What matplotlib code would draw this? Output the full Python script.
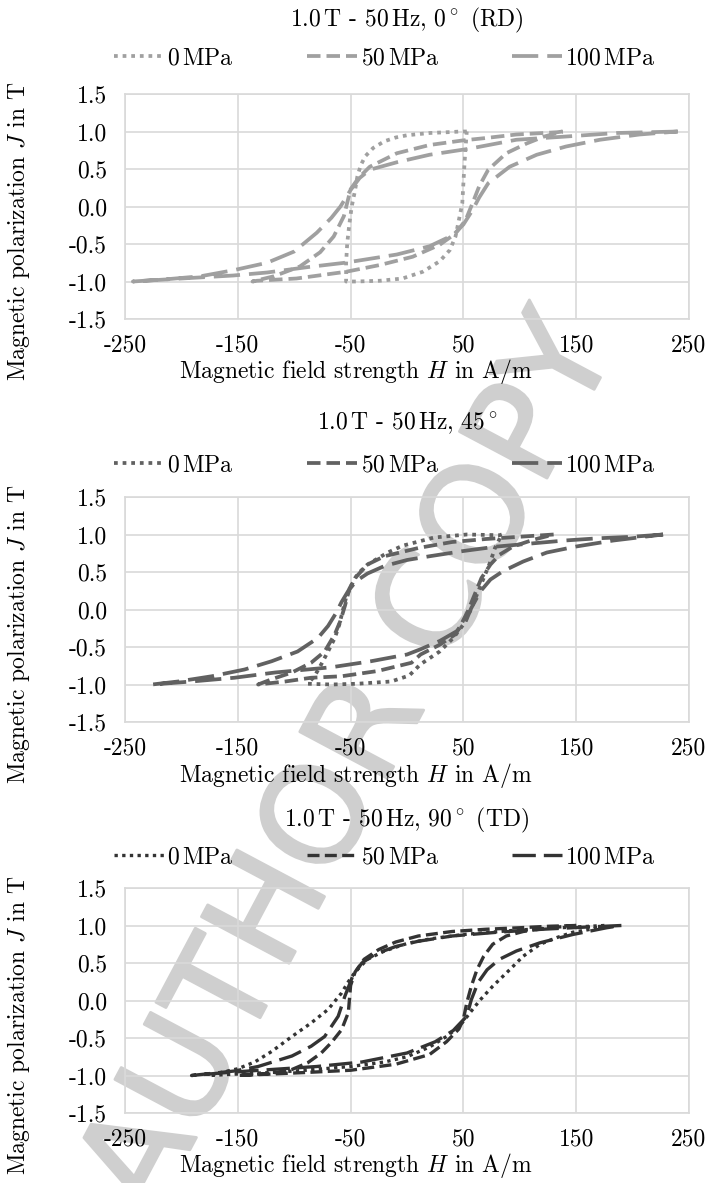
import matplotlib
matplotlib.use('Agg')
import matplotlib.pyplot as plt
import matplotlib.patheffects as pe
from matplotlib.lines import Line2D

plt.rcParams['font.family'] = ['cmr10', 'DejaVu Serif']
plt.rcParams['mathtext.fontset'] = 'cm'
plt.rcParams['axes.formatter.use_mathtext'] = True

# ---- data: (H in A/m, J in T) ----
# 0 deg (RD)
rd_0_up = [(53, 1.00), (48, 1.00), (35, 0.99), (20, 0.98), (0, 0.95), (-10, 0.92), (-20, 0.87),
           (-30, 0.78), (-37, 0.67), (-41, 0.55), (-44, 0.40), (-46, 0.22), (-49, 0.00),
           (-51, -0.22), (-53, -0.49), (-54, -0.76), (-54, -1.00)]
rd_0_lo = [(-54, -1.00), (-45, -1.00), (-24, -0.99), (-4, -0.96), (14, -0.87), (29, -0.73),
           (38, -0.58), (43, -0.40), (46, -0.18), (49, 0.04), (50, 0.31), (51, 0.58),
           (52, 0.80), (53, 1.00)]
rd_50_up = [(138, 1.00), (133, 0.99), (97, 0.96), (68, 0.91), (49, 0.88), (20, 0.82), (-9, 0.71),
            (-33, 0.53), (-43, 0.38), (-50, 0.23), (-56, -0.13), (-65, -0.40), (-77, -0.61),
            (-95, -0.80), (-118, -0.93), (-137, -1.00)]
rd_50_lo = [(-137, -1.00), (-133, -0.99), (-98, -0.96), (-54, -0.87), (-24, -0.78), (5, -0.67),
            (29, -0.51), (43, -0.36), (52, -0.18), (58, 0.04), (64, 0.27), (72, 0.49),
            (88, 0.71), (106, 0.84), (121, 0.93), (138, 1.00)]
rd_100_up = [(240, 1.00), (186, 0.98), (138, 0.93), (97, 0.89), (55, 0.77), (20, 0.69), (-9, 0.59),
             (-33, 0.49), (-42, 0.38), (-50, 0.22), (-59, 0.00), (-67, -0.15), (-80, -0.35),
             (-100, -0.60), (-124, -0.75), (-154, -0.85), (-183, -0.93), (-213, -0.97), (-243, -1.00)]
rd_100_lo = [(-243, -1.00), (-200, -0.96), (-154, -0.92), (-124, -0.88), (-89, -0.81), (-55, -0.75),
             (-9, -0.64), (20, -0.53), (41, -0.38), (50, -0.24), (58, -0.05), (64, 0.12),
             (72, 0.31), (91, 0.53), (115, 0.69), (141, 0.80), (171, 0.89), (206, 0.96), (240, 1.00)]

# 45 deg
d45_0_up = [(84, 1.00), (82, 0.99), (53, 1.00), (24, 0.96), (-4, 0.85), (-17, 0.76), (-35, 0.60),
            (-44, 0.47), (-49, 0.33), (-54, 0.16), (-57, -0.02), (-60, -0.20), (-64, -0.38),
            (-70, -0.56), (-76, -0.73), (-82, -0.89), (-88, -0.99)]
d45_0_lo = [(-88, -0.99), (-67, -1.00), (-44, -0.99), (-14, -0.96), (2, -0.88), (12, -0.73),
            (29, -0.56), (41, -0.38), (50, -0.20), (56, -0.02), (62, 0.20), (68, 0.42),
            (74, 0.64), (78, 0.82), (84, 1.00)]
d45_50_up = [(130, 1.00), (100, 0.97), (70, 0.94), (40, 0.90), (10, 0.82), (-20, 0.71), (-35, 0.60),
             (-46, 0.42), (-51, 0.28), (-55, 0.05), (-59, -0.15), (-64, -0.33), (-73, -0.56),
             (-85, -0.71), (-102, -0.84), (-120, -0.93), (-132, -1.00)]
d45_50_lo = [(-132, -1.00), (-108, -0.96), (-85, -0.91), (-58, -0.89), (-26, -0.82), (4, -0.71),
             (12, -0.60), (29, -0.47), (43, -0.33), (48, -0.20), (54, -0.02), (60, 0.20),
             (66, 0.42), (74, 0.60), (82, 0.73), (94, 0.84), (112, 0.93), (130, 1.00)]
d45_100_up = [(227, 1.00), (200, 0.97), (170, 0.95), (140, 0.92), (110, 0.88), (80, 0.84), (50, 0.78),
              (20, 0.71), (0, 0.66), (-20, 0.58), (-35, 0.48), (-45, 0.38), (-52, 0.25),
              (-58, 0.10), (-63, -0.05), (-70, -0.22), (-79, -0.38), (-97, -0.56), (-120, -0.69),
              (-144, -0.80), (-173, -0.89), (-203, -0.96), (-226, -1.00)]
d45_100_lo = [(-226, -1.00), (-191, -0.96), (-153, -0.91), (-117, -0.84), (-67, -0.77), (-32, -0.69),
              (0, -0.60), (12, -0.53), (29, -0.42), (44, -0.29), (52, -0.16), (57, 0.02),
              (65, 0.24), (74, 0.40), (85, 0.51), (103, 0.64), (124, 0.76), (150, 0.84),
              (183, 0.92), (227, 1.00)]

# 90 deg (TD)
td_0_up = [(175, 1.00), (150, 0.98), (120, 0.96), (90, 0.93), (50, 0.88), (20, 0.82), (0, 0.76),
           (-20, 0.66), (-35, 0.55), (-46, 0.38), (-52, 0.25), (-58, 0.10), (-70, -0.12),
           (-85, -0.30), (-102, -0.48), (-120, -0.68), (-135, -0.82), (-150, -0.91),
           (-165, -0.96), (-175, -1.00)]
td_0_lo = [(-175, -1.00), (-150, -0.98), (-120, -0.96), (-90, -0.93), (-50, -0.88), (-20, -0.82),
           (0, -0.75), (20, -0.62), (35, -0.48), (46, -0.35), (52, -0.24), (56, -0.16),
           (65, 0.01), (76, 0.19), (91, 0.41), (103, 0.59), (118, 0.75), (133, 0.84),
           (147, 0.91), (171, 0.97), (175, 1.00)]
td_50_up = [(150, 1.00), (126, 0.99), (100, 0.97), (70, 0.95), (40, 0.92), (10, 0.86), (-10, 0.78),
            (-25, 0.68), (-38, 0.55), (-46, 0.38), (-50, 0.20), (-52, -0.16), (-58, -0.39),
            (-67, -0.56), (-76, -0.70), (-88, -0.83), (-102, -0.92), (-120, -0.97), (-150, -1.00)]
td_50_lo = [(-150, -1.00), (-120, -0.98), (-90, -0.96), (-50, -0.93), (-10, -0.85), (20, -0.72),
            (35, -0.55), (46, -0.38), (50, -0.25), (53, -0.03), (57, 0.19), (62, 0.41),
            (68, 0.59), (76, 0.75), (88, 0.86), (103, 0.92), (127, 0.97), (150, 1.00)]
td_100_up = [(190, 1.00), (160, 0.98), (120, 0.95), (80, 0.91), (40, 0.86), (10, 0.79), (-10, 0.72),
             (-28, 0.62), (-40, 0.50), (-48, 0.33), (-55, 0.06), (-61, -0.21), (-73, -0.48),
             (-85, -0.61), (-102, -0.74), (-132, -0.88), (-153, -0.94), (-191, -1.00)]
td_100_lo = [(-191, -1.00), (-160, -0.96), (-120, -0.92), (-80, -0.88), (-40, -0.82), (0, -0.70),
             (25, -0.55), (41, -0.40), (53, -0.21), (57, 0.01), (63, 0.24), (71, 0.41),
             (82, 0.55), (97, 0.66), (118, 0.77), (147, 0.88), (177, 0.97), (190, 1.00)]

labels = ['0$\\,$MPa', '50$\\,$MPa', '100$\\,$MPa']
titles = ['1.0$\\,$T - 50$\\,$Hz, 0$^\\circ$ (RD)',
          '1.0$\\,$T - 50$\\,$Hz, 45$^\\circ$',
          '1.0$\\,$T - 50$\\,$Hz, 90$^\\circ$ (TD)']
xticks = [-250, -150, -50, 50, 150, 250]
yticks = [-1.5, -1.0, -0.5, 0.0, 0.5, 1.0, 1.5]

panels = [
    [(rd_0_up, rd_0_lo), (rd_50_up, rd_50_lo), (rd_100_up, rd_100_lo)],
    [(d45_0_up, d45_0_lo), (d45_50_up, d45_50_lo), (d45_100_up, d45_100_lo)],
    [(td_0_up, td_0_lo), (td_50_up, td_50_lo), (td_100_up, td_100_lo)],
]
colors = ['#a0a0a0', '#616161', '#333333']
widths = [2.7, 2.7, 2.4]
styles = [(0, (1, 1.3)), (0, (3.6, 1.6)), (0, (7, 2.4))]

W, H = 711, 1183
fig = plt.figure(figsize=(W / 100, H / 100), dpi=100)
fig.patch.set_facecolor('white')

# pixel positions of the plot areas (top, bottom)
boxes = [(94, 319), (497, 722), (888, 1113)]
title_y = [20, 423, 820]
legend_y = [58, 465, 857]
left, right = 125, 689
fs = 17

for k in range(3):
    top, bot = boxes[k]
    ax = fig.add_axes([left / W, 1 - bot / H, (right - left) / W, (bot - top) / H])
    ax.set_facecolor('none')
    for i, (up, lo) in enumerate(panels[k]):
        pts = up + lo[1:]
        ax.plot([p[0] for p in pts], [p[1] for p in pts], color=colors[k],
                lw=widths[k], linestyle=styles[i], dash_capstyle='butt',
                solid_joinstyle='round', label=labels[i])
    ax.set_xlim(-250, 250)
    ax.set_ylim(-1.5, 1.5)
    ax.set_xticks(xticks)
    ax.set_xticklabels([str(v) for v in xticks])
    ax.set_yticks(yticks)
    ax.set_yticklabels(['%.1f' % v for v in yticks])
    ax.tick_params(length=0, labelsize=fs, pad=13)
    ax.tick_params(axis='x', pad=11)
    ax.grid(True, color='#d9d9d9', lw=1.2)
    for s in ax.spines.values():
        s.set_color('#d9d9d9')
        s.set_linewidth(1.2)

    handles = [Line2D([], [], color=colors[k], lw=widths[k], linestyle=styles[i],
                      dash_capstyle='butt') for i in range(3)]
    fig.legend(handles, labels, loc='center', ncol=3, frameon=False, fontsize=fs,
               bbox_to_anchor=(385 / W, 1 - legend_y[k] / H), handlelength=2.1,
               handletextpad=0.15, columnspacing=3.1)

    fig.text(407 / W, 1 - title_y[k] / H, titles[k], ha='center', va='center', fontsize=fs)
    fig.text(356 / W, 1 - (bot + 53) / H, 'Magnetic field strength $H$ in A/m',
             ha='center', va='center', fontsize=fs)
    fig.text(19 / W, 1 - (top + 137) / H, 'Magnetic polarization $J$ in T',
             ha='center', va='center', rotation=90, fontsize=fs)

# watermark
wm = fig.text(352 / W, 1 - 765 / H, 'AUTHOR COPY', ha='center', va='center', rotation=62,
              fontsize=98, color='#cfcfcf', family='DejaVu Sans', zorder=-1)
wm.set_path_effects([pe.withStroke(linewidth=2, foreground='#cfcfcf')])

fig.savefig('out.png', dpi=100)
